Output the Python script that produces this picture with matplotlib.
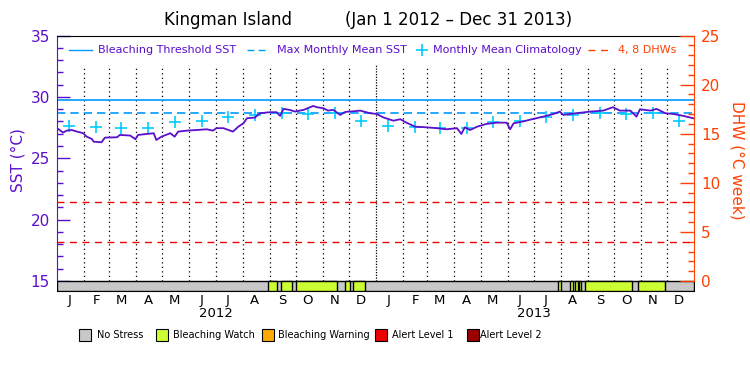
"""
Coral Reef Watch style virtual-station chart for Kingman Island, 2012-2013.
SST (left axis), DHW (right axis) and a stress-level bar along the bottom.
"""

import numpy as np
import matplotlib
matplotlib.use("Agg")
import matplotlib.pyplot as plt
import matplotlib.dates as mdates
from matplotlib.ticker import FixedLocator
from matplotlib.patches import Rectangle
from matplotlib.lines import Line2D

# ---- data ----
sst_dates = [
    "2012-01-01", "2012-01-08", "2012-01-12", "2012-01-18", "2012-01-24", "2012-01-31",
    "2012-02-04", "2012-02-10", "2012-02-12", "2012-02-21", "2012-02-25", "2012-03-10",
    "2012-03-13", "2012-03-25", "2012-03-31", "2012-04-03", "2012-04-21", "2012-04-24",
    "2012-04-30", "2012-05-10", "2012-05-15", "2012-05-19", "2012-05-29", "2012-06-09",
    "2012-06-21", "2012-06-28", "2012-07-02", "2012-07-10", "2012-07-21", "2012-07-27",
    "2012-08-02", "2012-08-06", "2012-08-15", "2012-08-21", "2012-09-01", "2012-09-09",
    "2012-09-13", "2012-09-17", "2012-09-24", "2012-09-30", "2012-10-10", "2012-10-21",
    "2012-10-25", "2012-11-02", "2012-11-07", "2012-11-13", "2012-11-21", "2012-11-26",
    "2012-11-30", "2012-12-02", "2012-12-14", "2012-12-25", "2013-01-02", "2013-01-09",
    "2013-01-21", "2013-01-29", "2013-02-05", "2013-02-15", "2013-02-28", "2013-03-12",
    "2013-03-23", "2013-04-04", "2013-04-09", "2013-04-13", "2013-04-19", "2013-04-27",
    "2013-05-08", "2013-05-20", "2013-05-31", "2013-06-04", "2013-06-08", "2013-06-19",
    "2013-06-29", "2013-07-12", "2013-07-24", "2013-07-31", "2013-08-04", "2013-08-19",
    "2013-09-04", "2013-09-19", "2013-09-30", "2013-10-08", "2013-10-20", "2013-10-27",
    "2013-10-31", "2013-11-12", "2013-11-19", "2013-11-29", "2013-12-08", "2013-12-20",
    "2013-12-31",
]
sst_values = [
    27.45, 27.09, 27.25, 27.30, 27.17, 27.04,
    26.76, 26.57, 26.35, 26.30, 26.68, 26.71,
    26.90, 26.85, 26.55, 26.90, 27.04, 26.49,
    26.76, 27.04, 26.76, 27.17, 27.25, 27.30,
    27.36, 27.25, 27.45, 27.45, 27.17, 27.57,
    27.85, 28.26, 28.31, 28.67, 28.75, 28.75,
    28.45, 29.02, 28.94, 28.80, 28.94, 29.26,
    29.16, 29.07, 28.88, 28.94, 28.53, 28.75,
    28.80, 28.80, 28.88, 28.67, 28.61, 28.34,
    28.06, 28.18, 27.90, 27.57, 27.52, 27.45,
    27.36, 27.45, 26.98, 27.52, 27.30, 27.57,
    27.80, 27.90, 27.90, 27.36, 27.85, 28.00,
    28.18, 28.39, 28.61, 28.80, 28.53, 28.67,
    28.80, 28.88, 29.16, 28.88, 28.88, 28.39,
    28.99, 28.88, 29.02, 28.67, 28.61, 28.45,
    28.26,
]

# monthly mean climatology (Jan..Dec), plotted mid-month for both years
clim_values = [27.66, 27.55, 27.47, 27.47, 27.95, 28.06,
               28.33, 28.55, 28.72, 28.63, 28.72, 28.06]
mmm_sst       = 28.72
threshold_sst = 29.72
dhw_levels    = [4, 8]

# bleaching watch periods (everything else is "No Stress")
watch_start = ["2012-08-30", "2012-09-14", "2012-10-01", "2012-11-26", "2012-12-06",
               "2013-07-29", "2013-08-12", "2013-08-18", "2013-08-22", "2013-08-29",
               "2013-10-29"]
watch_end   = ["2012-09-10", "2012-09-27", "2012-11-17", "2012-12-02", "2012-12-20",
               "2013-08-01", "2013-08-15", "2013-08-21", "2013-08-24", "2013-10-22",
               "2013-11-29"]

month_letters = ["J", "F", "M", "A", "M", "J", "J", "A", "S", "O", "N", "D"]
years         = [2012, 2013]

stress_labels = ["No Stress", "Bleaching Watch", "Bleaching Warning",
                 "Alert Level 1", "Alert Level 2"]
stress_colors = ["#C8C8C8", "#CCFF33", "#FFAA00", "#EE0000", "#990000"]

# ---- styling ----
PURPLE   = "#5B0FCC"
ORANGE   = "#FF4000"
TH_BLUE  = "#0099FF"
CLIM     = "#00CCFF"
DHW_RED  = "#EE0000"
W, H     = 750, 375

def fx(px): return px / W
def fy(py): return 1 - py / H

fig = plt.figure(figsize=(7.5, 3.75), dpi=100)
ax = fig.add_axes([fx(57), fy(291), fx(694) - fx(57), fy(35.5) - fy(291)])
ax2 = ax.twinx()

d = lambda s: mdates.date2num(np.datetime64(s))
x0, x1 = d("2012-01-01"), d("2014-01-01")
sst_bottom = 15 - 10 / 12.275
ax.set_xlim(x0, x1)
ax.set_ylim(sst_bottom, 35)
ax2.set_ylim((sst_bottom - 15) * 1.25, 25)

# dotted month lines (stop short of the legend row)
for y in years:
    for m in range(1, 13):
        if y == 2012 and m == 1:
            continue
        xm = d(f"{y}-{m:02d}-01")
        ls = (0, (1, 1.2)) if m == 1 else (0, (1, 2.6))
        ax.plot([xm, xm], [15, 32.6], color="black", lw=0.9, ls=ls, zorder=1)

# threshold / MMM
ax.axhline(threshold_sst, color=TH_BLUE, lw=1.2, zorder=2)
ax.axhline(mmm_sst, color=TH_BLUE, lw=1.2, ls=(0, (5, 3)), zorder=2)

# climatology
clim_x = [d(f"{y}-{m:02d}-15") for y in years for m in range(1, 13)]
ax.plot(clim_x, np.tile(clim_values, len(years)), ls="none", marker="+",
        ms=9, mew=1.2, color=CLIM, zorder=3)

# SST
sst_x = [d(s) for s in sst_dates]
ax.plot(sst_x, sst_values, color=PURPLE, lw=1.3, zorder=4)

# DHW levels
for lev in dhw_levels:
    ax2.axhline(lev, color=DHW_RED, lw=1, ls=(0, (5, 4)))

# stress bar
ax.broken_barh([(x0, x1 - x0)], (sst_bottom, 15 - sst_bottom),
               facecolor=stress_colors[0], edgecolor="black", lw=1, zorder=5)
ax.broken_barh([(d(s), d(e) - d(s)) for s, e in zip(watch_start, watch_end)],
               (sst_bottom, 15 - sst_bottom),
               facecolor=stress_colors[1], edgecolor="black", lw=1, zorder=6)

# axes styling
ax.yaxis.set_major_locator(FixedLocator(range(15, 36, 5)))
ax.yaxis.set_minor_locator(FixedLocator(range(15, 36)))
ax.tick_params(axis="y", which="major", direction="in", length=9.5, width=1,
               color=PURPLE, labelcolor=PURPLE, labelsize=11, pad=5)
ax.tick_params(axis="y", which="minor", direction="in", length=4.5, width=1,
               color=PURPLE)
ax2.yaxis.set_major_locator(FixedLocator(range(0, 26, 5)))
ax2.yaxis.set_minor_locator(FixedLocator(range(0, 26)))
ax2.tick_params(axis="y", which="major", direction="in", length=10, width=1,
                color=ORANGE, labelcolor=ORANGE, labelsize=11, pad=5)
ax2.tick_params(axis="y", which="minor", direction="in", length=4.5, width=1,
                color=ORANGE)

mid_months = [d(f"{y}-{m:02d}-15") for y in years for m in range(1, 13)]
ax.set_xticks(mid_months)
ax.set_xticklabels(month_letters * len(years))
ax.tick_params(axis="x", length=0, pad=2, labelsize=9.5)
for y in years:
    ax.text(d(f"{y}-07-01"), -0.087, str(y), transform=ax.get_xaxis_transform(),
            ha="center", va="center", fontsize=9.5)

ax.spines["left"].set_color(PURPLE)
ax.spines["left"].set_bounds(15, 35)
ax.spines["right"].set_visible(False)
ax2.spines["left"].set_visible(False)
ax2.spines["right"].set_color(ORANGE)
ax2.spines["right"].set_bounds(0, 25)
ax2.spines["top"].set_visible(False)
ax2.spines["bottom"].set_visible(False)

fig.text(fx(18), fy(160), "SST (°C)", rotation=90, color=PURPLE,
         ha="center", va="center", fontsize=11)
fig.text(fx(737), fy(160), "DHW (°C week)", rotation=270, color=ORANGE,
         ha="center", va="center", fontsize=11)

# title
fig.text(fx(228), fy(20), "Kingman Island", ha="center", va="center", fontsize=12)
fig.text(fx(459), fy(20), "(Jan 1 2012 – Dec 31 2013)", ha="center", va="center",
         fontsize=12)

# top legend (manual, like the original)
ly = fy(50)
fig.add_artist(Line2D([fx(69), fx(92)], [ly, ly], color=TH_BLUE, lw=1))
fig.text(fx(98), ly, "Bleaching Threshold SST", color=PURPLE, va="center", fontsize=8)
fig.add_artist(Line2D([fx(247), fx(267)], [ly, ly], color=TH_BLUE, lw=1, ls=(0, (5, 3))))
fig.text(fx(277), ly, "Max Monthly Mean SST", color=PURPLE, va="center", fontsize=8)
fig.add_artist(Line2D([fx(422)], [ly], color=CLIM, marker="+", ms=8, mew=1.2, ls="none"))
fig.text(fx(433), ly, "Monthly Mean Climatology", color=PURPLE, va="center", fontsize=8)
fig.add_artist(Line2D([fx(588), fx(612)], [ly, ly], color=ORANGE, lw=1, ls=(0, (5, 4))))
fig.text(fx(618), ly, "4, 8 DHWs", color=ORANGE, va="center", fontsize=8)

# bottom stress legend
box_x  = [79, 156, 262, 375, 467]
text_x = [97, 173, 278, 392, 480]
for bx, tx, lab, col in zip(box_x, text_x, stress_labels, stress_colors):
    fig.add_artist(Rectangle((fx(bx), fy(341)), fx(12), 12 / H,
                             facecolor=col, edgecolor="black", lw=0.8))
    fig.text(fx(tx), fy(335.5), lab, va="center", fontsize=7)

plt.savefig("out.png", dpi=100, facecolor="white")
plt.close()
